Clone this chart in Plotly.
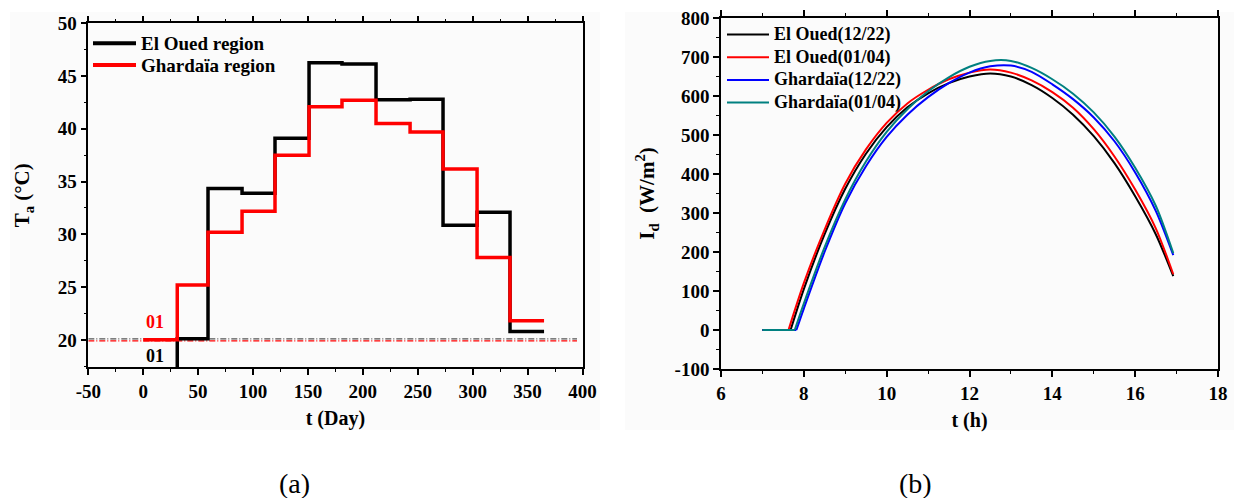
import plotly.graph_objects as go

# ---------------- Panel (a) data ----------------
month_start_days = [0, 31, 59, 90, 120, 151, 181, 212, 243, 273, 304, 334, 365]
el_oued_temp = [16.0, 20.1, 34.35, 33.9, 39.1, 46.25, 46.15, 42.75, 42.8, 30.85, 32.1, 20.8]
ghardaia_temp = [20.0, 25.2, 30.2, 32.2, 37.5, 42.1, 42.7, 40.5, 39.7, 36.2, 27.8, 21.8]
ref_line_x = [-50, 395]
ref_line_black = 20.1
ref_line_red = 19.9
legend_a = ["El Oued region", "Ghardaïa region"]
xticks_a = [-50, 0, 50, 100, 150, 200, 250, 300, 350, 400]
yticks_a = [20, 25, 30, 35, 40, 45, 50]

# ---------------- Panel (b) data ----------------
t_eo1222 = [7.0, 7.68, 8.0, 8.5, 9.0, 9.5, 10.0, 10.5, 11.0, 11.5, 12.0, 12.5, 13.0, 13.5, 14.0, 14.5, 15.0, 15.5, 16.0, 16.5, 16.92]
id_eo1222 = [0, 0, 105, 245, 362, 452, 520, 571, 607, 633, 650, 658, 650, 628, 595, 552, 497, 428, 343, 245, 138]

t_eo0104 = [7.0, 7.63, 8.0, 8.5, 9.0, 9.5, 10.0, 10.5, 11.0, 11.5, 12.0, 12.5, 13.0, 13.5, 14.0, 14.5, 15.0, 15.5, 16.0, 16.5, 16.92]
id_eo0104 = [0, 0, 120, 257, 375, 463, 531, 581, 616, 643, 660, 668, 660, 640, 610, 570, 515, 445, 360, 260, 143]

t_gh1222 = [7.0, 7.82, 8.0, 8.5, 9.0, 9.5, 10.0, 10.5, 11.0, 11.5, 12.0, 12.5, 13.0, 13.5, 14.0, 14.5, 15.0, 15.5, 16.0, 16.5, 16.92]
id_gh1222 = [0, 0, 55, 200, 325, 420, 495, 552, 597, 633, 660, 676, 678, 662, 630, 592, 545, 484, 404, 305, 192]

t_gh0104 = [7.0, 7.78, 8.0, 8.5, 9.0, 9.5, 10.0, 10.5, 11.0, 11.5, 12.0, 12.5, 13.0, 13.5, 14.0, 14.5, 15.0, 15.5, 16.0, 16.5, 16.92]
id_gh0104 = [0, 0, 68, 212, 335, 432, 508, 566, 612, 648, 675, 690, 690, 672, 643, 606, 558, 496, 416, 318, 197]

legend_b = ["El Oued(12/22)", "El Oued(01/04)", "Ghardaïa(12/22)", "Ghardaïa(01/04)"]
xticks_b = [6, 8, 10, 12, 14, 16, 18]
yticks_b = [-100, 0, 100, 200, 300, 400, 500, 600, 700, 800]

# body margin is removed by a post script, so the figure fills the window
W, H = 1234, 498
FONT = "Liberation Serif"


def px(xp):
    return xp / W


def py(yp):
    return 1 - yp / H


fig = go.Figure()

# Panel (a)
fig.add_trace(go.Scatter(x=ref_line_x, y=[ref_line_black] * 2, mode="lines",
                         line=dict(color="#555555", width=1.2, dash="6px,2px,1px,2px"),
                         showlegend=False, xaxis="x", yaxis="y", hoverinfo="skip"))
fig.add_trace(go.Scatter(x=ref_line_x, y=[ref_line_red] * 2, mode="lines",
                         line=dict(color="#ff0000", width=1.2, dash="6px,2px,1px,2px"),
                         showlegend=False, xaxis="x", yaxis="y", hoverinfo="skip"))
colors_a = ["black", "#ff0000"]
for yv, nm, col in [(el_oued_temp, legend_a[0], colors_a[0]), (ghardaia_temp, legend_a[1], colors_a[1])]:
    fig.add_trace(go.Scatter(x=month_start_days, y=yv + [yv[-1]],
                             mode="lines", line=dict(color=col, width=3.5, shape="hv"),
                             name=nm, showlegend=False, xaxis="x", yaxis="y"))

# Panel (b)
colors_b = ["black", "#ff0000", "#0000ff", "#008080"]
series_b = [(t_eo1222, id_eo1222), (t_eo0104, id_eo0104), (t_gh1222, id_gh1222), (t_gh0104, id_gh0104)]
for (tx, iy), nm, col in zip(series_b, legend_b, colors_b):
    fig.add_trace(go.Scatter(x=tx[:2], y=iy[:2], mode="lines", line=dict(color=col, width=2),
                             name=nm, showlegend=False, xaxis="x2", yaxis="y2"))
    fig.add_trace(go.Scatter(x=tx[1:], y=iy[1:], mode="lines",
                             line=dict(color=col, width=2, shape="spline", smoothing=0.8),
                             name=nm, showlegend=False, xaxis="x2", yaxis="y2"))

tickfont = dict(family=FONT, size=19, color="black", weight="bold")
titlefont = dict(family=FONT, size=20, color="black", weight="bold")


def common(domain, rng, tickvals, minor_dtick, anchor):
    return dict(domain=domain, range=rng, anchor=anchor, automargin=False,
                tickmode="array", tickvals=tickvals, ticktext=["<b>%d</b>" % v for v in tickvals],
                showgrid=False, zeroline=False, showline=True, linecolor="black", linewidth=1.5,
                ticks="outside", ticklen=6, tickwidth=1.5, tickcolor="black",
                minor=dict(tickmode="linear", tick0=0, dtick=minor_dtick, ticks="outside", ticklen=3,
                           tickwidth=1.2, tickcolor="black", showgrid=False),
                tickfont=tickfont, ticklabeloverflow="allow")


def xax(domain, rng, tickvals, minor_dtick, title, anchor):
    d = common(domain, rng, tickvals, minor_dtick, anchor)
    d.update(mirror="ticks", title=dict(text="<b>" + title + "</b>", font=titlefont, standoff=10))
    return d


def yax(domain, rng, tickvals, minor_dtick, title, anchor, standoff, tsize):
    d = common(domain, rng, tickvals, minor_dtick, anchor)
    d.update(mirror=True, title=dict(text="<b>" + title + "</b>",
                                     font=dict(family=FONT, size=tsize, color="black", weight="bold"),
                                     standoff=standoff))
    return d


bg = "#fbfbfb"
shapes = [
    dict(type="rect", xref="paper", yref="paper", x0=px(10), x1=px(600), y0=py(430), y1=py(12),
         fillcolor=bg, line=dict(width=0), layer="below"),
    dict(type="rect", xref="paper", yref="paper", x0=px(625), x1=1, y0=py(430), y1=py(12),
         fillcolor=bg, line=dict(width=0), layer="below"),
]
annotations = [
    dict(text="<b>01</b>", x=10.5, y=21.7, xref="x", yref="y", showarrow=False,
         xanchor="center", yanchor="middle",
         font=dict(family=FONT, size=18, color="#ff0000", weight="bold")),
    dict(text="<b>01</b>", x=10.5, y=18.5, xref="x", yref="y", showarrow=False,
         xanchor="center", yanchor="middle",
         font=dict(family=FONT, size=18, color="black", weight="bold")),
    dict(text="(a)", x=px(294), y=py(483), xref="paper", yref="paper", showarrow=False,
         xanchor="center", yanchor="middle", font=dict(family=FONT, size=28, color="black")),
    dict(text="(b)", x=px(915), y=py(483), xref="paper", yref="paper", showarrow=False,
         xanchor="center", yanchor="middle", font=dict(family=FONT, size=28, color="black")),
]

# manual legends (line sample + text)
for i, (nm, col) in enumerate(zip(legend_a, colors_a)):
    yy = py(43.3 + 21.7 * i)
    shapes.append(dict(type="line", xref="paper", yref="paper", x0=px(93), x1=px(136), y0=yy, y1=yy,
                       line=dict(color=col, width=4)))
    annotations.append(dict(text="<b>" + nm + "</b>", x=px(139), y=yy, xref="paper", yref="paper",
                            xanchor="left", yanchor="middle", showarrow=False,
                            font=dict(family=FONT, size=19, color="black", weight="bold")))
for i, (nm, col) in enumerate(zip(legend_b, colors_b)):
    yy = py(34.5 + 22.7 * i)
    shapes.append(dict(type="line", xref="paper", yref="paper", x0=px(727), x1=px(769), y0=yy, y1=yy,
                       line=dict(color=col, width=2)))
    annotations.append(dict(text="<b>" + nm + "</b>", x=px(772), y=yy, xref="paper", yref="paper",
                            xanchor="left", yanchor="middle", showarrow=False,
                            font=dict(family=FONT, size=18, color="black", weight="bold")))

fig.update_layout(
    width=W, height=H,
    margin=dict(l=0, r=0, t=0, b=0),
    paper_bgcolor="white", plot_bgcolor=bg,
    showlegend=False,
    xaxis=xax([px(88.3), px(582.5)], [-50, 400], xticks_a, 25, "t (Day)", "y"),
    yaxis=yax([py(367.3), py(23.3)], [17.4, 50], yticks_a, 2.5, "T<sub>a</sub> (°C)", "x", 22, 21),
    xaxis2=xax([px(721), px(1218)], [6, 18], xticks_b, 1, "t (h)", "y2"),
    yaxis2=yax([py(369), py(18)], [-100, 800], yticks_b, 50, "I<sub>d</sub>  (W/m<sup>2</sup>)", "x2", 14, 21),
    shapes=shapes,
    annotations=annotations,
)

fig.write_html("out.html",
               config={"displayModeBar": False},
               post_script="document.body.style.margin='0';document.body.style.overflow='hidden';")
